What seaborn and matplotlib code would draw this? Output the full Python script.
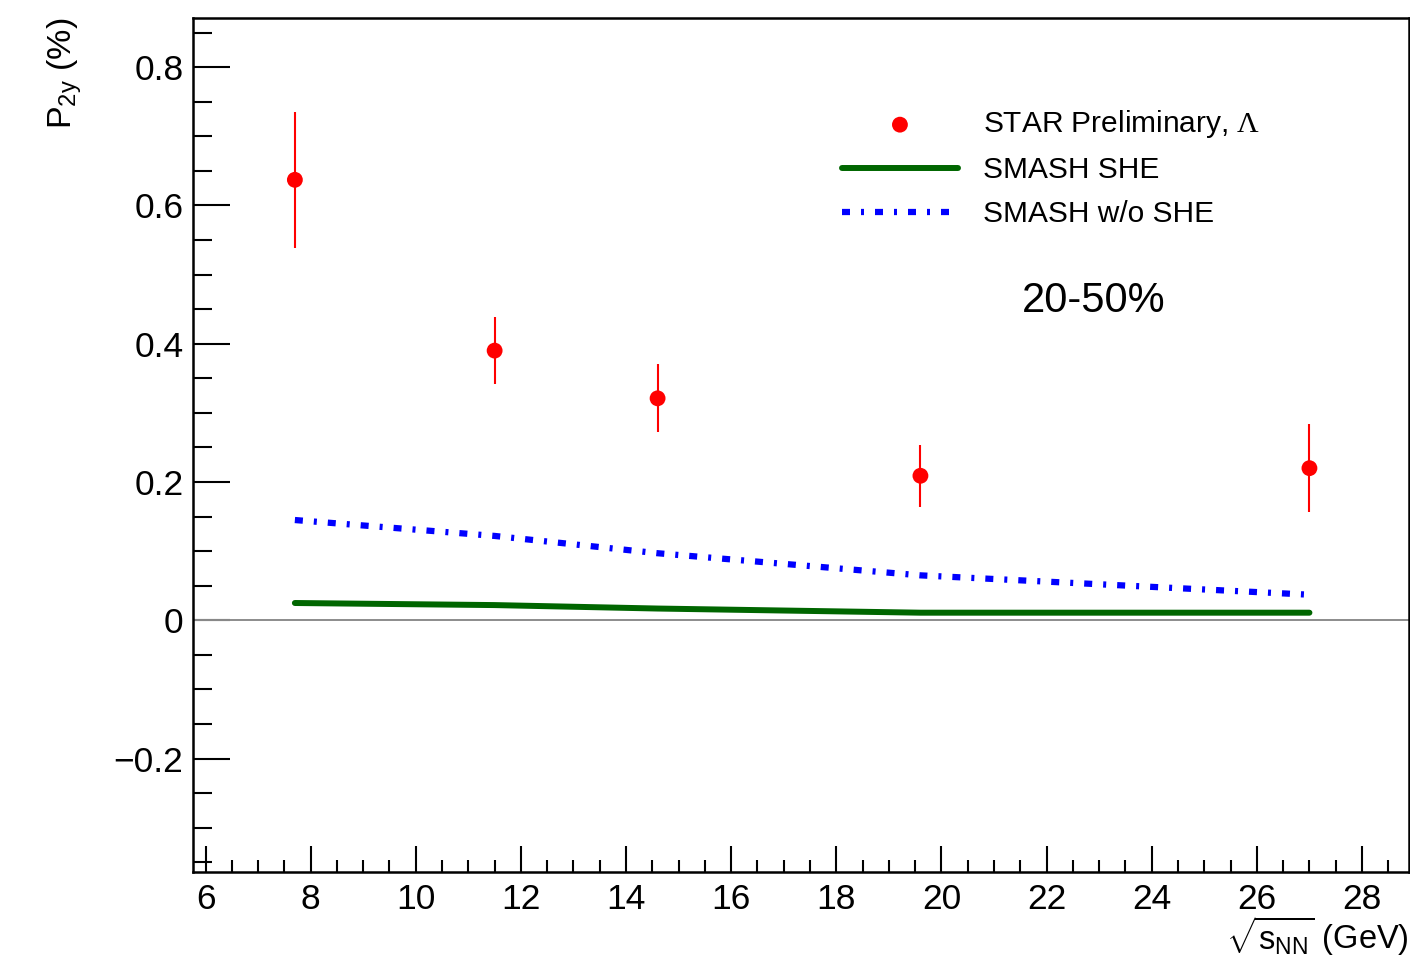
import numpy as np
import pandas as pd
import matplotlib
matplotlib.use("Agg")
import matplotlib.pyplot as plt
import seaborn as sns
from matplotlib.ticker import MultipleLocator, FuncFormatter

# ---- data ----
energy = [7.7, 11.5, 14.6, 19.6, 27.0]
star_p2y = [0.637, 0.390, 0.321, 0.209, 0.220]
star_err = [0.098, 0.049, 0.049, 0.045, 0.064]
smash_she = [0.025, 0.022, 0.017, 0.011, 0.011]
smash_noshe = [0.145, 0.122, 0.097, 0.065, 0.037]

label_star = r"STAR Preliminary, $\mathcal{\Lambda}$"
label_she = "SMASH SHE"
label_noshe = "SMASH w/o SHE"
centrality = "20-50%"

sns.set_theme(style="ticks")
plt.rcParams["font.family"] = ["Liberation Sans", "DejaVu Sans"]
plt.rcParams["text.color"] = "black"
plt.rcParams["axes.labelcolor"] = "black"
plt.rcParams["mathtext.fontset"] = "custom"
plt.rcParams["mathtext.rm"] = "Liberation Sans"
plt.rcParams["mathtext.it"] = "Liberation Sans:italic"
plt.rcParams["mathtext.bf"] = "Liberation Sans:bold"
plt.rcParams["mathtext.cal"] = "Liberation Serif"

fig = plt.figure(figsize=(14.1, 9.55), dpi=100)
ax = fig.add_axes([193 / 1410, 83 / 955, 1216 / 1410, 854 / 955])

ax.axhline(0, color="#8c8c8c", lw=1.4, zorder=1)

df = pd.DataFrame({"energy": energy, "star": star_p2y, "err": star_err,
                   "she": smash_she, "noshe": smash_noshe})

ax.errorbar(df["energy"], df["star"], yerr=df["err"], fmt="none",
            ecolor="#ff0000", elinewidth=1.5, capsize=0, zorder=3)
sns.scatterplot(data=df, x="energy", y="star", color="#ff0000", s=130,
                edgecolor="none", linewidth=0, label=label_star, zorder=4, ax=ax)
sns.lineplot(data=df, x="energy", y="she", color="#006600", lw=4.3,
             errorbar=None, label=label_she, zorder=2, ax=ax)
sns.lineplot(data=df, x="energy", y="noshe", color="#0000ff", lw=4.5,
             linestyle=(0, (1.28, 1.76, 0.48, 1.76)), errorbar=None,
             label=label_noshe, zorder=2, ax=ax)

ax.set_xlim(5.762, 28.894)
ax.set_ylim(-0.364, 0.871)

ax.xaxis.set_major_locator(MultipleLocator(2))
ax.xaxis.set_minor_locator(MultipleLocator(0.5))
ax.yaxis.set_major_locator(MultipleLocator(0.2))
ax.yaxis.set_minor_locator(MultipleLocator(0.05))
ax.yaxis.set_major_formatter(FuncFormatter(
    lambda v, p: "0" if abs(v) < 1e-9 else ("%.1f" % v).replace("-", "\u2212")))
ax.xaxis.set_major_formatter(FuncFormatter(lambda v, p: "%d" % round(v)))

ax.tick_params(axis="both", which="both", direction="in", top=False, right=False,
               colors="black", labelsize=25.5)
ax.tick_params(axis="y", which="major", length=26.6, width=1.5, pad=7)
ax.tick_params(axis="y", which="minor", length=13.4, width=1.5)
ax.tick_params(axis="x", which="major", length=18.7, width=1.5, pad=8)
ax.tick_params(axis="x", which="minor", length=8.6, width=1.5)
for s in ax.spines.values():
    s.set_linewidth(1.8)
    s.set_color("black")

ax.set_xlabel(r"$\sqrt{\mathrm{s}_{\mathrm{NN}}}$ (GeV)", fontsize=23.5,
              ha="right", va="center")
ax.xaxis.set_label_coords(1.0, -(936 - 872) / 854)
ax.set_ylabel(r"P$_{\mathrm{2y}}$ (%)", fontsize=24.5, ha="right", va="center",
              rotation=90, rotation_mode="anchor")
ax.yaxis.set_label_coords((65 - 193) / 1216, 1.0)

ax.text((1094 - 193) / 1216, (872 - 301) / 854, centrality, fontsize=30,
        ha="center", va="center", transform=ax.transAxes)

handles, labels = ax.get_legend_handles_labels()
ax.legend(handles, labels, loc="upper left",
          bbox_to_anchor=((842 - 193) / 1216, (872 - 108.5) / 854),
          frameon=False, fontsize=21.5, handlelength=3.88, handletextpad=0.84,
          labelspacing=0.53, borderpad=0, borderaxespad=0, scatterpoints=1)

fig.savefig("out.png", dpi=100)
